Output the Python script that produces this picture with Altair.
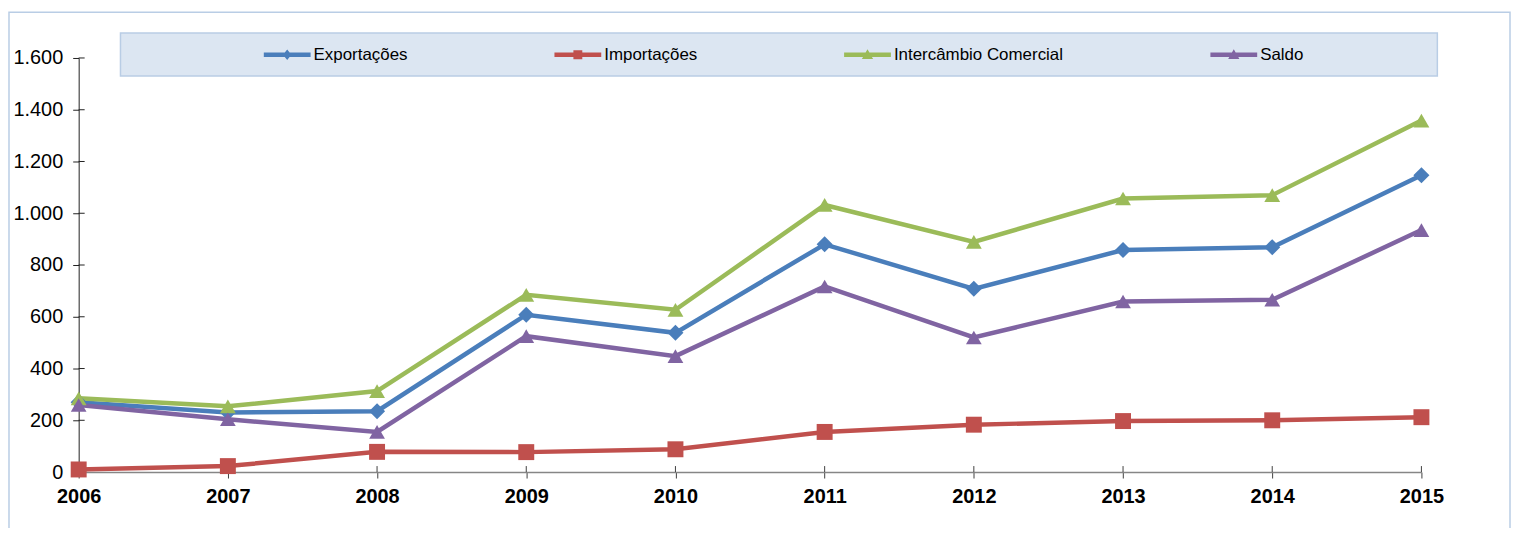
import altair as alt
import pandas as pd

years = [2006, 2007, 2008, 2009, 2010, 2011, 2012, 2013, 2014, 2015]
series_names = ["Exportações", "Importações", "Intercâmbio Comercial", "Saldo"]
exportacoes = [270, 230, 235, 608, 538, 880, 708, 858, 869, 1147]
importacoes = [10, 23, 78, 77, 88, 155, 183, 197, 200, 212]
intercambio = [285, 254, 313, 685, 627, 1032, 889, 1057, 1070, 1358]
saldo = [259, 204, 155, 525, 448, 717, 520, 659, 666, 935]
y_tick_values = [0, 200, 400, 600, 800, 1000, 1200, 1400, 1600]

colors = ["#4A7EBB", "#C0504D", "#9BBB59", "#8064A2"]
marker_shapes = ["diamond", "square", "triangle-up", "triangle-up"]
marker_sizes = [260, 250, 340, 340]
legend_shapes = [
    "M-1,-0.1L1,-0.1L1,0.1L-1,0.1Z M0,-0.22L0.18,0L0,0.22L-0.18,0Z",
    "M-1,-0.1L1,-0.1L1,0.1L-1,0.1Z M-0.19,-0.19L0.19,-0.19L0.19,0.19L-0.19,0.19Z",
    "M-1,-0.1L1,-0.1L1,0.1L-1,0.1Z M0,-0.24L0.24,0.18L-0.24,0.18Z",
    "M-1,-0.1L1,-0.1L1,0.1L-1,0.1Z M0,-0.24L0.24,0.18L-0.24,0.18Z",
]

rows = []
for name, vals in zip(series_names, [exportacoes, importacoes, intercambio, saldo]):
    for yr, v in zip(years, vals):
        rows.append({"ano": yr, "valor": v, "serie": name})
df = pd.DataFrame(rows)

W, H = 1349, 416
FONT = "Liberation Sans"

x_scale = alt.Scale(domain=[2006, 2015], nice=False, zero=False)
y_scale = alt.Scale(domain=[0, 1600], nice=False)
x_axis = alt.Axis(
    values=years, format="d", title=None, grid=False, labelFlush=False,
    labelFontWeight="bold", labelFontSize=20, labelFont=FONT, labelColor="#000000",
    domainColor="#868686", domainWidth=1.5, tickColor="#404040", tickSize=6,
    labelPadding=9,
)
y_axis = alt.Axis(
    values=y_tick_values, title=None, grid=False,
    labelExpr="replace(format(datum.value, ',d'), ',', '.')",
    labelFontSize=20, labelFont=FONT, labelColor="#000000",
    domainColor="#202020", tickColor="#202020", tickSize=6, labelPadding=10,
)
x_enc = alt.X("ano:Q", scale=x_scale, axis=x_axis)
y_enc = alt.Y("valor:Q", scale=y_scale, axis=y_axis)

color_scale = alt.Scale(domain=series_names, range=colors)

base = alt.Chart(df)

outer = alt.Chart(pd.DataFrame({"k": [0]})).mark_rect(
    fill="transparent", stroke="#B9CDE5", strokeWidth=1.5
).encode(x=alt.value(-70), x2=alt.value(1438), y=alt.value(-46), y2=alt.value(490))

legend_box = alt.Chart(pd.DataFrame({"k": [0]})).mark_rect(
    fill="#DCE6F2", stroke="#B9CDE5", strokeWidth=1.5
).encode(x=alt.value(42), x2=alt.value(1365), y=alt.value(-25), y2=alt.value(18))

lines = base.mark_line(strokeWidth=4.5).encode(
    x=x_enc, y=y_enc,
    color=alt.Color("serie:N", scale=color_scale, legend=None),
    order=alt.Order("ano:Q"),
)

points = base.mark_point(filled=True, opacity=1, strokeWidth=0).encode(
    x=x_enc, y=y_enc,
    color=alt.Color("serie:N", scale=color_scale, legend=None),
    shape=alt.Shape("serie:N", scale=alt.Scale(domain=series_names, range=marker_shapes), legend=None),
    size=alt.Size("serie:N", scale=alt.Scale(domain=series_names, range=marker_sizes), legend=None),
)

legend_def = alt.Legend(
    title=None, orient="none", direction="horizontal", legendX=186, legendY=-27,
    columnPadding=147, labelFontSize=17, labelFont=FONT, labelColor="#000000",
    labelLimit=400,
    symbolSize=2209, symbolStrokeWidth=0, labelOffset=3, padding=0,
    symbolOpacity=1,
)
legend_layer = base.transform_filter("false").mark_point(filled=True).encode(
    x=x_enc, y=y_enc,
    color=alt.Color("serie:N", scale=color_scale, legend=legend_def),
    shape=alt.Shape("serie:N", scale=alt.Scale(domain=series_names, range=legend_shapes), legend=legend_def),
)

ytick_df = pd.DataFrame({"valor": y_tick_values})
y_inner_ticks = alt.Chart(ytick_df).mark_rule(color="#202020", strokeWidth=1).encode(
    y=y_enc, x=alt.value(0), x2=alt.value(6),
)
xtick_df = pd.DataFrame({"ano": years})
x_inner_ticks = alt.Chart(xtick_df).mark_rule(color="#404040", strokeWidth=1).encode(
    x=x_enc, y=alt.value(H), y2=alt.value(H - 6),
)

chart = alt.layer(
    outer, legend_box, y_inner_ticks, x_inner_ticks, lines, points, legend_layer
).resolve_scale(
    color="independent", shape="independent", size="independent"
).properties(
    width=W, height=H,
    autosize=alt.AutoSizeParams(type="none"),
    padding={"left": 71, "top": 49, "right": 91, "bottom": 55},
).configure_view(stroke=None)

chart.save("out.html", embed_options={"renderer": "svg", "actions": False})
